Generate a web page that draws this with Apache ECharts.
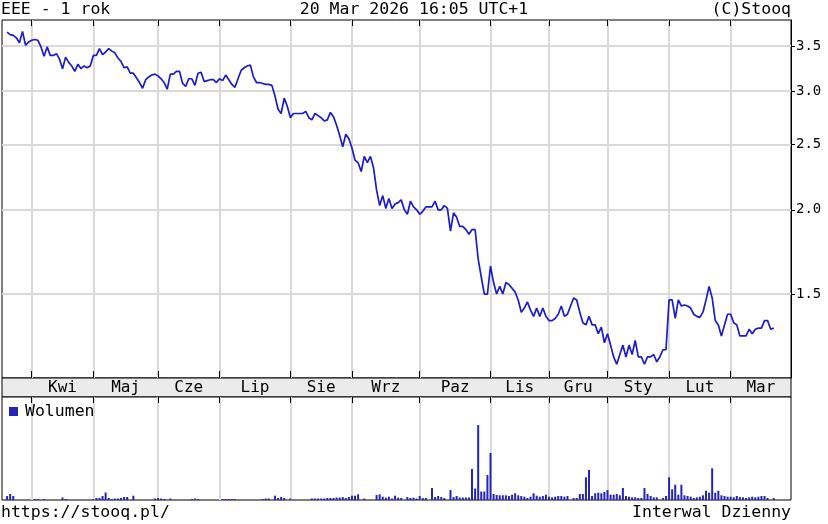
<!DOCTYPE html>
<html>
<head>
<meta charset="utf-8">
<script src="https://cdn.jsdelivr.net/npm/echarts@6/dist/echarts.min.js"></script>
<style>
html,body{margin:0;padding:0;background:#fff;}
#chart{width:828px;height:524px;}
</style>
</head>
<body>
<div id="chart"></div>
<script>
// Trading-day closes (index 0 = 20 Mar 2025 ... 249 = 20 Mar 2026)
const prices = [
3.67,3.64,3.63,3.60,3.54,3.68,3.51,3.55,3.57,3.58,
3.57,3.49,3.38,3.49,3.39,3.39,3.41,3.35,3.24,3.37,
3.31,3.27,3.21,3.29,3.24,3.27,3.25,3.27,3.39,3.39,
3.47,3.40,3.43,3.47,3.44,3.42,3.36,3.32,3.25,3.26,
3.19,3.19,3.14,3.09,3.03,3.12,3.15,3.17,3.18,3.16,
3.13,3.09,3.02,3.18,3.18,3.21,3.21,3.08,3.05,3.13,
3.13,3.06,3.19,3.20,3.10,3.11,3.12,3.12,3.09,3.13,
3.11,3.17,3.12,3.07,3.04,3.13,3.22,3.25,3.27,3.28,
3.15,3.09,3.09,3.08,3.07,3.07,3.06,2.95,2.82,2.78,
2.93,2.85,2.74,2.78,2.78,2.78,2.78,2.80,2.74,2.72,
2.78,2.76,2.74,2.71,2.72,2.79,2.75,2.67,2.58,2.48,
2.59,2.55,2.47,2.37,2.35,2.28,2.40,2.35,2.40,2.31,
2.14,2.03,2.10,2.01,2.08,2.01,2.04,2.05,2.07,2.00,
1.97,2.06,2.02,2.00,1.97,1.99,2.02,2.02,2.02,2.06,
2.00,2.00,2.03,2.01,1.86,1.98,1.95,1.89,1.89,1.87,
1.84,1.87,1.87,1.69,1.59,1.50,1.50,1.65,1.56,1.50,
1.54,1.50,1.56,1.55,1.53,1.51,1.47,1.41,1.43,1.46,
1.42,1.39,1.43,1.39,1.43,1.39,1.37,1.37,1.38,1.40,
1.44,1.39,1.40,1.44,1.48,1.47,1.41,1.36,1.35,1.39,
1.35,1.35,1.31,1.34,1.27,1.31,1.26,1.21,1.18,1.22,
1.26,1.21,1.26,1.22,1.28,1.21,1.21,1.18,1.21,1.21,
1.22,1.19,1.21,1.24,1.24,1.47,1.47,1.38,1.47,1.44,
1.445,1.44,1.43,1.40,1.39,1.385,1.41,1.47,1.54,1.48,
1.37,1.35,1.30,1.35,1.40,1.40,1.36,1.35,1.30,1.30,
1.30,1.33,1.31,1.33,1.335,1.335,1.37,1.37,1.33,1.335
];
// Daily volume (thousands)
const volumes = [
4,6,4,0,0,0,0,0,0,1,
1,0,1,0,0,0,0,0,2.5,1,
0,0,0,0,0,0,0,0,1,2,
2,4,7.5,2,1,1.5,1.5,2,3,3,
0,4.3,0,0,0,0,0,0,1.5,2,
1.5,1,0,1.5,0,0,0,0,0,0,
1,1.5,1,0,0,0,0,0,0,0,
1,1,1,1,1,0,0,0,0,0,
0,0,0,1,1.5,1.5,0,4.3,2,3,
2,0,1.5,0,0,0,0,0,0,1.5,
1.5,1.5,1.5,1.5,2,2,2,2.5,2.5,3,
2,3,4.3,4.3,5.7,0,1.5,0,0,0,
5,5.7,3.3,2.3,3.3,1.5,4.3,2.3,2,0,
3,2,2.3,1.5,4,2,2,0,12,3,
4,3,2,0,10,3,4,2.5,2.5,2.5,
2.5,31,11.5,75,8.5,8.5,25,47,6,5,
4.7,4.7,4.7,4,5.3,6.7,4.7,4,3.3,2,
3.3,6.7,4.3,3.3,4,5.3,3.3,2.7,3.3,4,
4,3.3,4,0,2,2,6,6,22.7,30,
4,6.7,7.3,6.7,8,10,5.3,5.3,6,4.7,
12,4,3.3,2.7,2.7,2,2,12,6,4,
2.7,2.7,0,2,4,22.7,10.7,15.3,5.3,15.3,
4.7,4,3.3,2,2.7,3.3,4.7,9.3,7.3,31.7,
7.3,9.3,4.7,4,3.3,3.3,2.7,4,3,2.7,
2,2.7,3.3,2.7,3.3,4,4,2,0,2
];
const monthNames = ['Kwi','Maj','Cze','Lip','Sie','Wrz','Paz','Lis','Gru','Sty','Lut','Mar'];
const monthStarts = [8,28,49,69,92,112,134,157,176,195,215,235];
const priceTicks = [1.5,2.0,2.5,3.0,3.5];
const titleLeft = 'EEE - 1 rok';
const titleCenter = '20 Mar 2026 16:05 UTC+1';
const titleRight = '(C)Stooq';
const footLeft = 'https://stooq.pl/';
const footRight = 'Interwal Dzienny';

const xMin = -1.66, xMax = 254.6;
const monthMids = monthStarts.map((s, k) => (s + (k + 1 < monthStarts.length ? monthStarts[k + 1] : xMax)) / 2);
const FONT = 'DejaVu Sans Mono';
const L = 2, R = 37;
const TXT = {fontFamily: FONT, fontSize: 16.5, fontWeight: 'normal', color: '#000'};

const chart = echarts.init(document.getElementById('chart'), null, {renderer: 'canvas'});
const gray = '#d9d9d9';
const baseX = {
  type: 'value', min: xMin, max: xMax,
  axisLine: {show: false, onZero: false},
  axisLabel: {show: false},
  splitLine: {show: true, lineStyle: {color: gray, width: 2}},
  axisTick: {show: true, customValues: monthStarts, inside: true, length: 6, lineStyle: {color: '#000', width: 1}}
};
const option = {
  animation: false,
  backgroundColor: '#fff',
  textStyle: {fontFamily: FONT},
  title: [
    {text: titleLeft, left: 1, top: 1, padding: 0, textStyle: TXT},
    {text: titleCenter, left: 'center', top: 1, padding: 0, textStyle: TXT},
    {text: titleRight, right: R, top: 1, padding: 0, textStyle: TXT},
    {text: footLeft, left: 1, top: 504, padding: 0, textStyle: TXT},
    {text: footRight, right: R, top: 504, padding: 0, textStyle: TXT}
  ],
  legend: {
    data: ['Wolumen'], left: 9, top: 403, padding: 0,
    icon: 'rect', itemWidth: 9, itemHeight: 9, itemGap: 4,
    textStyle: {fontFamily: FONT, fontSize: 16.5, color: '#000', padding: [0, 0, 0, 2]},
    selectedMode: false
  },
  grid: [
    {left: L, right: R, top: 20, height: 358, show: true, borderColor: '#000', borderWidth: 1, backgroundColor: '#fff', outerBoundsMode: 'none', containLabel: false},
    {left: L, right: R, top: 378, height: 19, show: true, borderColor: '#000', borderWidth: 1, backgroundColor: '#ebebeb', outerBoundsMode: 'none', containLabel: false},
    {left: L, right: R, top: 397, height: 103, show: true, borderColor: '#000', borderWidth: 1, backgroundColor: '#fff', outerBoundsMode: 'none', containLabel: false}
  ],
  xAxis: [
    Object.assign({}, baseX, {gridIndex: 0, position: 'top'}),
    Object.assign({}, baseX, {
      gridIndex: 1, position: 'top',
      splitLine: {show: false},
      axisTick: {show: true, customValues: monthStarts, inside: false, length: 7, lineStyle: {color: '#000', width: 1}},
      axisLabel: {
        show: true, inside: true, margin: 2, customValues: monthMids,
        fontFamily: FONT, fontSize: 16, color: '#000',
        formatter: function (v) {
          let best = 0, d = Infinity;
          monthMids.forEach((m, k) => { if (Math.abs(m - v) < d) { d = Math.abs(m - v); best = k; } });
          return monthNames[best];
        }
      }
    }),
    Object.assign({}, baseX, {gridIndex: 2, position: 'top'})
  ],
  yAxis: [
    {
      gridIndex: 0, type: 'log', position: 'right', min: 1.126, max: 3.826,
      axisLine: {show: true, onZero: false, lineStyle: {color: '#000'}},
      axisTick: {show: true, customValues: priceTicks, inside: false, length: 4, lineStyle: {color: '#000'}},
      axisLabel: {show: true, customValues: priceTicks, margin: 5, fontFamily: FONT, fontSize: 14, color: '#000',
        formatter: v => Number(v).toFixed(1)},
      splitLine: {show: true, lineStyle: {color: gray, width: 2}}
    },
    {gridIndex: 1, type: 'value', show: false, min: 0, max: 1, axisLine: {onZero: false}},
    {gridIndex: 2, type: 'value', show: false, min: 0, max: 103, splitLine: {show: false}, axisLine: {onZero: false}}
  ],
  series: [
    {
      name: 'EEE', type: 'line', xAxisIndex: 0, yAxisIndex: 0,
      data: prices.map((v, i) => [i, v]),
      showSymbol: false, symbol: 'none',
      lineStyle: {color: '#1c1cc8', width: 1.7},
      itemStyle: {color: '#1c1cc8'},
      z: 5
    },
    {
      name: 'Wolumen', type: 'bar', xAxisIndex: 2, yAxisIndex: 2,
      data: volumes.map((v, i) => [i, v]),
      barWidth: 2,
      itemStyle: {color: '#2424b8'},
      z: 5
    }
  ]
};
chart.setOption(option);
</script>
</body>
</html>
